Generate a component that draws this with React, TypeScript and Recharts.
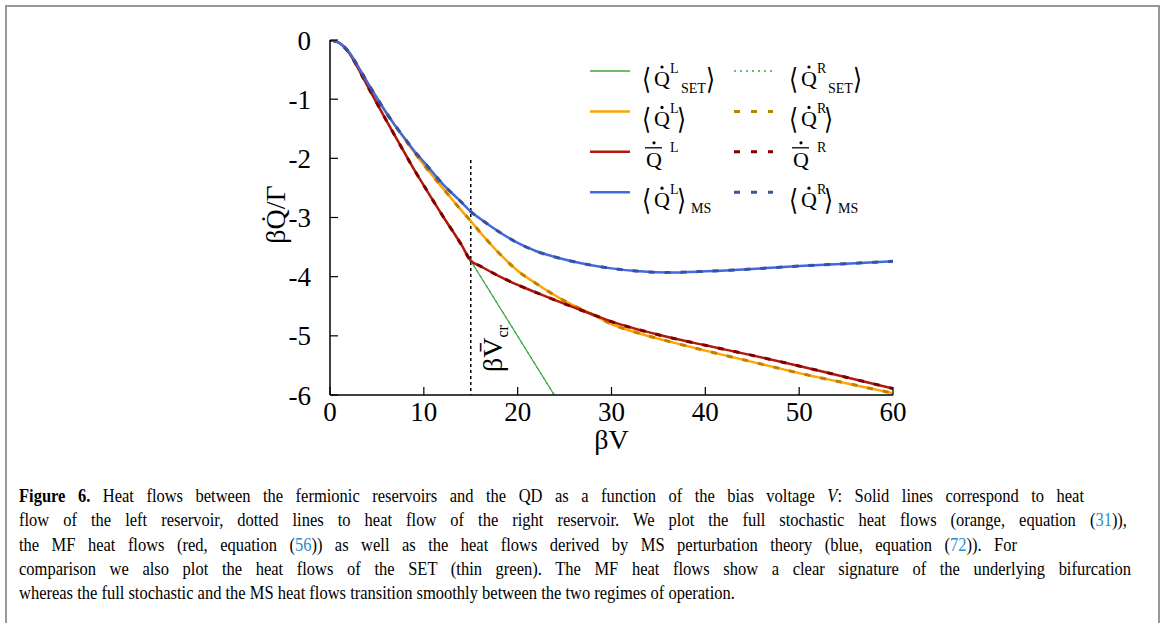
import React from 'react';
import { LineChart, Line, XAxis, YAxis, ReferenceLine, Legend, Label } from 'recharts';

const xTicks = [0, 10, 20, 30, 40, 50, 60];
const yTicks = [0, -1, -2, -3, -4, -5, -6];

// bias voltage samples (βV)
const betaV = [0, 1, 2, 3, 4, 5, 6, 7, 8, 9, 10, 12, 14, 15, 16, 18, 20, 22, 25, 28, 30, 33, 36, 40, 45, 50, 55, 60];
// MS perturbation theory (blue)
const msHeat = [0, -0.05, -0.2, -0.45, -0.72, -0.98, -1.23, -1.46, -1.67, -1.88, -2.06, -2.43, -2.74, -2.9, -3.02, -3.24, -3.43, -3.57, -3.71, -3.81, -3.86, -3.91, -3.93, -3.91, -3.87, -3.82, -3.78, -3.74];
// full stochastic (orange)
const stochHeat = [0, -0.05, -0.2, -0.45, -0.72, -0.98, -1.23, -1.46, -1.68, -1.9, -2.11, -2.5, -2.88, -3.06, -3.25, -3.6, -3.9, -4.12, -4.41, -4.64, -4.8, -4.96, -5.09, -5.25, -5.44, -5.63, -5.8, -5.97];
// mean field (red)
const mfHeat = [0, -0.05, -0.21, -0.48, -0.78, -1.07, -1.36, -1.64, -1.92, -2.2, -2.46, -2.97, -3.46, -3.73, -3.82, -3.99, -4.14, -4.27, -4.46, -4.64, -4.76, -4.9, -5.02, -5.16, -5.33, -5.51, -5.7, -5.89];
// single electron transistor (thin green)
const setV = [0, 1, 2, 3, 4, 5, 6, 7, 8, 9, 10, 12, 14, 15, 23.9];
const setHeat = [0, -0.05, -0.21, -0.48, -0.78, -1.07, -1.36, -1.64, -1.92, -2.2, -2.46, -2.97, -3.46, -3.73, -6.0];

const critV = 15;
const critTop = -2.03;

const toPts = (xs: number[], ys: number[]) => xs.map((v, i) => ({ v, q: ys[i] }));
const msData = toPts(betaV, msHeat);
const stochData = toPts(betaV, stochHeat);
const mfData = toPts(betaV, mfHeat);
const setData = toPts(setV, setHeat);

const SERIF = '"Liberation Serif", "Times New Roman", serif';
const MATH = '"DejaVu Serif", serif';

const C = {
  green: '#3aa63a',
  orange: '#ffa500',
  orangeD: '#c08000',
  red: '#b0180a',
  redD: '#800000',
  blue: '#4169e1',
  blueD: '#3a50a0',
};

function QSym({ x, y, bar }: { x: number; y: number; bar?: boolean }) {
  return (
    <g>
      <text x={x} y={y} fontSize={22} fontFamily={SERIF}>Q</text>
      {bar && <line x1={x - 1} x2={x + 16} y1={y - 19} y2={y - 19} stroke="#000" strokeWidth={1.3} />}
      <circle cx={x + 8} cy={bar ? y - 24 : y - 19} r={1.6} fill="#000" />
    </g>
  );
}

function Bracket({ x, y, ch }: { x: number; y: number; ch: string }) {
  return (
    <text x={x} y={y + 3} fontSize={29} fontFamily={MATH} transform={`translate(${x},${y}) scale(0.8,1) translate(${-x},${-y})`}>
      {ch}
    </text>
  );
}

function MathEntry({ x, y, side, kind }: { x: number; y: number; side: string; kind: string }) {
  if (kind === 'mf') {
    return (
      <g>
        <QSym x={x + 3} y={y} bar />
        <text x={x + 27} y={y - 15} fontSize={14} fontFamily={SERIF}>{side}</text>
      </g>
    );
  }
  return (
    <g>
      <Bracket x={x - 1} y={y} ch="⟨" />
      <QSym x={x + 11} y={y} />
      <text x={x + 27} y={y - 13} fontSize={14} fontFamily={SERIF}>{side}</text>
      {kind === 'set' && <text x={x + 38} y={y + 7} fontSize={14} fontFamily={SERIF}>SET</text>}
      <Bracket x={kind === 'set' ? x + 63 : x + 34} y={y} ch="⟩" />
      {kind === 'ms' && <text x={x + 48} y={y + 6} fontSize={14} fontFamily={SERIF}>MS</text>}
    </g>
  );
}

const legendRows = [
  { kind: 'set', solid: C.green, solidW: 1.3, dashed: C.green, dash: '2 4', dashW: 1.3 },
  { kind: 'full', solid: C.orange, solidW: 2.5, dashed: C.orangeD, dash: '6 11', dashW: 3 },
  { kind: 'mf', solid: C.red, solidW: 2.5, dashed: C.redD, dash: '6 11', dashW: 3 },
  { kind: 'ms', solid: C.blue, solidW: 2.5, dashed: C.blueD, dash: '6 11', dashW: 3 },
];

function LegendBox() {
  return (
    <svg width={1168} height={260} style={{ position: 'absolute', left: 0, top: 0, overflow: 'visible' }}>
      {legendRows.map((r, i) => {
        const yc = 71 + i * 40.4;
        return (
          <g key={r.kind}>
            <line x1={590} x2={630} y1={yc} y2={yc} stroke={r.solid} strokeWidth={r.solidW} />
            <MathEntry x={643} y={yc + 15} side="L" kind={r.kind} />
            <line x1={734} x2={773} y1={yc} y2={yc} stroke={r.dashed} strokeWidth={r.dashW} strokeDasharray={r.dash} />
            <MathEntry x={790} y={yc + 15} side="R" kind={r.kind} />
          </g>
        );
      })}
    </svg>
  );
}

function XTick(props: any) {
  const { x, y, payload } = props;
  return (
    <text x={x} y={y} dy="0.71em" textAnchor="middle" fontSize={27} fontFamily={SERIF} fill="#000">
      {payload.value}
    </text>
  );
}

function YTick(props: any) {
  const { x, y, payload } = props;
  return (
    <text x={x} y={y} dy="0.355em" textAnchor="end" fontSize={27} fontFamily={SERIF} fill="#000">
      {payload.value}
    </text>
  );
}

function XTitle(props: any) {
  const { x, y, width } = props.viewBox;
  return (
    <text x={x + width / 2} y={y + 54} textAnchor="middle" fontSize={28} fontFamily={SERIF}>βV</text>
  );
}

function YTitle(props: any) {
  const { x, y, height } = props.viewBox;
  const cy = y + height / 2 - 3;
  return (
    <text transform={`translate(${x + 15},${cy}) rotate(-90)`} textAnchor="middle" fontSize={28} fontFamily={SERIF}>
      βQ{'\u0307'}/Γ
    </text>
  );
}

function CritLabel(props: any) {
  const { x, y, height } = props.viewBox;
  const bx = x + 31;
  const by = y + height - 23;
  return (
    <text transform={`translate(${bx},${by}) rotate(-90)`} fontSize={28} fontFamily={SERIF}>
      βV{'\u0304'}
      <tspan fontSize={16} dy={6}>cr</tspan>
    </text>
  );
}

const axisLine = { stroke: '#000', strokeWidth: 1.5 };
const tickLine = { stroke: '#000', strokeWidth: 1.2 };

// caption: justified lines, condensed serif
const capScale = 0.868;
const captionLines = [
  { w: 1065, just: true, parts: [{ t: 'Figure 6.', b: true }, { t: ' Heat flows between the fermionic reservoirs and the QD as a function of the bias voltage ' }, { t: 'V', i: true }, { t: ': Solid lines correspond to heat' }] },
  { w: 1108, just: true, parts: [{ t: 'flow of the left reservoir, dotted lines to heat flow of the right reservoir. We plot the full stochastic heat flows (orange, equation (' }, { t: '31', c: true }, { t: ')),' }] },
  { w: 998, just: true, parts: [{ t: 'the MF heat flows (red, equation (' }, { t: '56', c: true }, { t: ')) as well as the heat flows derived by MS perturbation theory (blue, equation (' }, { t: '72', c: true }, { t: ')). For' }] },
  { w: 1112, just: true, parts: [{ t: 'comparison we also plot the heat flows of the SET (thin green). The MF heat flows show a clear signature of the underlying bifurcation' }] },
  { w: 1112, just: false, parts: [{ t: 'whereas the full stochastic and the MS heat flows transition smoothly between the two regimes of operation.' }] },
];

export default function App() {
  return (
    <div style={{ position: 'absolute', left: 0, top: 0, width: 1168, height: 623, overflow: 'hidden', background: '#fff' }}>
      <div style={{ position: 'absolute', left: 5, top: 5, width: 1155, height: 700, border: '2px solid #999', boxSizing: 'border-box' }} />
      <div style={{ position: 'absolute', left: 0, top: 0 }}>
        <LineChart width={1168} height={470} margin={{ top: 40, right: 275, bottom: 15, left: 270 }}>
          <XAxis
            dataKey="v"
            type="number"
            domain={[0, 60]}
            ticks={xTicks}
            allowDataOverflow
            height={60}
            tickSize={-8}
            tickMargin={15}
            tick={<XTick />}
            tickLine={tickLine}
            axisLine={axisLine}
          >
            <Label content={XTitle} />
          </XAxis>
          <XAxis
            xAxisId="top"
            orientation="top"
            type="number"
            domain={[0, 60]}
            ticks={xTicks}
            allowDataOverflow
            height={0}
            tickSize={-8}
            tick={false}
            tickLine={tickLine}
            axisLine={axisLine}
          />
          <YAxis
            type="number"
            domain={[-6, 0]}
            ticks={yTicks}
            allowDataOverflow
            width={60}
            tickSize={-8}
            tickMargin={27}
            tick={<YTick />}
            tickLine={tickLine}
            axisLine={axisLine}
          >
            <Label content={YTitle} />
          </YAxis>
          <YAxis
            yAxisId="right"
            orientation="right"
            type="number"
            domain={[-6, 0]}
            ticks={yTicks}
            allowDataOverflow
            width={0}
            tickSize={-8}
            tick={false}
            tickLine={tickLine}
            axisLine={axisLine}
          />
          <ReferenceLine
            segment={[{ x: critV, y: critTop }, { x: critV, y: -6 }]}
            stroke="#000"
            strokeWidth={1.5}
            strokeDasharray="3 3"
            label={<CritLabel />}
          />
          <Line data={setData} dataKey="q" type="linear" stroke={C.green} strokeWidth={1.2} strokeDasharray="2 4" dot={false} activeDot={false} isAnimationActive={false} />
          <Line data={setData} dataKey="q" type="linear" stroke={C.green} strokeWidth={1.2} dot={false} activeDot={false} isAnimationActive={false} />
          <Line data={stochData} dataKey="q" type="monotone" stroke={C.orange} strokeWidth={2.5} dot={false} activeDot={false} isAnimationActive={false} />
          <Line data={stochData} dataKey="q" type="monotone" stroke={C.orangeD} strokeWidth={3} strokeDasharray="6 10" dot={false} activeDot={false} isAnimationActive={false} />
          <Line data={mfData} dataKey="q" type="monotone" stroke={C.red} strokeWidth={2.5} dot={false} activeDot={false} isAnimationActive={false} />
          <Line data={mfData} dataKey="q" type="monotone" stroke={C.redD} strokeWidth={3} strokeDasharray="6 10" dot={false} activeDot={false} isAnimationActive={false} />
          <Line data={msData} dataKey="q" type="monotone" stroke={C.blue} strokeWidth={2.5} dot={false} activeDot={false} isAnimationActive={false} />
          <Line data={msData} dataKey="q" type="monotone" stroke={C.blueD} strokeWidth={3} strokeDasharray="6 10" dot={false} activeDot={false} isAnimationActive={false} />
          <Legend
            layout="horizontal"
            verticalAlign="middle"
            align="center"
            wrapperStyle={{ left: 0, top: 0, width: 0, height: 0 }}
            content={() => <LegendBox />}
          />
        </LineChart>
      </div>
      {captionLines.map((ln, i) => (
        <div
          key={i}
          style={{
            position: 'absolute',
            left: 19,
            top: 485 + i * 24.3,
            width: ln.w / capScale,
            fontSize: 19,
            lineHeight: '22px',
            fontFamily: SERIF,
            color: '#000',
            textAlign: ln.just ? 'justify' : 'left',
            textAlignLast: ln.just ? 'justify' : 'left',
            transform: `scaleX(${capScale})`,
            transformOrigin: '0 0',
            whiteSpace: 'normal',
          } as any}
        >
          {ln.parts.map((p: any, j) => (
            <span key={j} style={{ fontWeight: p.b ? 'bold' : undefined, fontStyle: p.i ? 'italic' : undefined, color: p.c ? '#2a8ccc' : '#000' }}>
              {p.t}
            </span>
          ))}
        </div>
      ))}
    </div>
  );
}
